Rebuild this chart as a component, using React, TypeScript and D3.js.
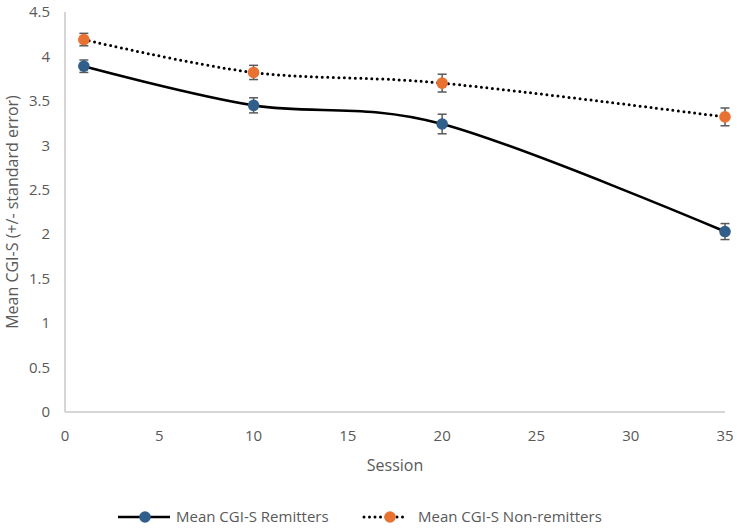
import React from "react";
import * as d3 from "d3";

const sessions = [1, 10, 20, 35];
const remitterMeans = [3.89, 3.45, 3.24, 2.03];
const remitterErrors = [0.07, 0.085, 0.11, 0.09];
const nonRemitterMeans = [4.19, 3.82, 3.7, 3.32];
const nonRemitterErrors = [0.07, 0.08, 0.1, 0.1];
const xTicks = [0, 5, 10, 15, 20, 25, 30, 35];
const yTicks = [0, 0.5, 1, 1.5, 2, 2.5, 3, 3.5, 4, 4.5];
const seriesNames = ["Mean CGI-S Remitters", "Mean CGI-S Non-remitters"];

const W = 737;
const H = 528;
const left = 65;
const right = 725;
const top = 12;
const bottom = 412;

const BLUE = "#2f5f8a";
const ORANGE = "#e97132";
const TEXT = "#595959";
const AXIS = "#c8c8c8";
const FONT = "'Open Sans', Roboto, sans-serif";

export default function App() {
  const x = d3.scaleLinear().domain([0, 35]).range([left, right]);
  const y = d3.scaleLinear().domain([0, 4.5]).range([bottom, top]);
  const line = d3
    .line<[number, number]>()
    .x((d) => x(d[0]))
    .y((d) => y(d[1]))
    .curve(d3.curveCardinal.tension(0));

  const series = [
    { name: seriesNames[0], means: remitterMeans, errs: remitterErrors, color: BLUE, dash: undefined as string | undefined, width: 2.6 },
    { name: seriesNames[1], means: nonRemitterMeans, errs: nonRemitterErrors, color: ORANGE, dash: "0 5.5", width: 3 },
  ];

  return (
    <svg width={W} height={H} style={{ position: "absolute", left: 0, top: 0, background: "#fff" }}>
      <rect width={W} height={H} fill="#fff" />
      {/* axes */}
      <line x1={left} x2={left} y1={top} y2={bottom} stroke={AXIS} strokeWidth={1.5} />
      <line x1={left} x2={right} y1={bottom} y2={bottom} stroke={AXIS} strokeWidth={1.5} />
      {yTicks.map((t) => (
        <text key={"y" + t} x={50} y={y(t)} dy="0.35em" textAnchor="end" fontSize={15} fill={TEXT} fontFamily={FONT}>
          {t}
        </text>
      ))}
      {xTicks.map((t) => (
        <text key={"x" + t} x={x(t)} y={436} dy="0.35em" textAnchor="middle" fontSize={15} fill={TEXT} fontFamily={FONT}>
          {t}
        </text>
      ))}
      <text x={(left + right) / 2} y={465} dy="0.35em" textAnchor="middle" fontSize={16} fill={TEXT} fontFamily={FONT}>
        Session
      </text>
      <text
        transform={`translate(12,${(top + bottom) / 2}) rotate(-90)`}
        textAnchor="middle"
        dy="0.35em"
        fontSize={16}
        fill={TEXT}
        fontFamily={FONT}
      >
        Mean CGI-S (+/- standard error)
      </text>

      {/* series lines */}
      {series.map((s) => (
        <path
          key={s.name}
          d={line(sessions.map((v, i) => [v, s.means[i]] as [number, number])) || ""}
          fill="none"
          stroke="#000"
          strokeWidth={s.width}
          strokeDasharray={s.dash}
          strokeLinecap={s.dash ? "round" : "butt"}
        />
      ))}
      {/* error bars and markers */}
      {series.map((s) =>
        sessions.map((v, i) => {
          const cx = x(v);
          const y1 = y(s.means[i] + s.errs[i]);
          const y2 = y(s.means[i] - s.errs[i]);
          return (
            <g key={s.name + v}>
              <line x1={cx} x2={cx} y1={y1} y2={y2} stroke="#595959" strokeWidth={1.5} />
              <line x1={cx - 4.5} x2={cx + 4.5} y1={y1} y2={y1} stroke="#595959" strokeWidth={1.5} />
              <line x1={cx - 4.5} x2={cx + 4.5} y1={y2} y2={y2} stroke="#595959" strokeWidth={1.5} />
              <circle cx={cx} cy={y(s.means[i])} r={5.8} fill={s.color} />
            </g>
          );
        })
      )}

      {/* legend */}
      <g>
        <line x1={118} x2={170} y1={517} y2={517} stroke="#000" strokeWidth={2.6} />
        <circle cx={145} cy={517} r={5.8} fill={BLUE} />
        <text x={176} y={517} dy="0.35em" fontSize={15} fill={TEXT} fontFamily={FONT}>
          {seriesNames[0]}
        </text>
        <line x1={364} x2={408} y1={517} y2={517} stroke="#000" strokeWidth={3} strokeDasharray="0 5.5" strokeLinecap="round" />
        <circle cx={390} cy={517} r={5.8} fill={ORANGE} />
        <text x={418} y={517} dy="0.35em" fontSize={15} fill={TEXT} fontFamily={FONT}>
          {seriesNames[1]}
        </text>
      </g>
    </svg>
  );
}
